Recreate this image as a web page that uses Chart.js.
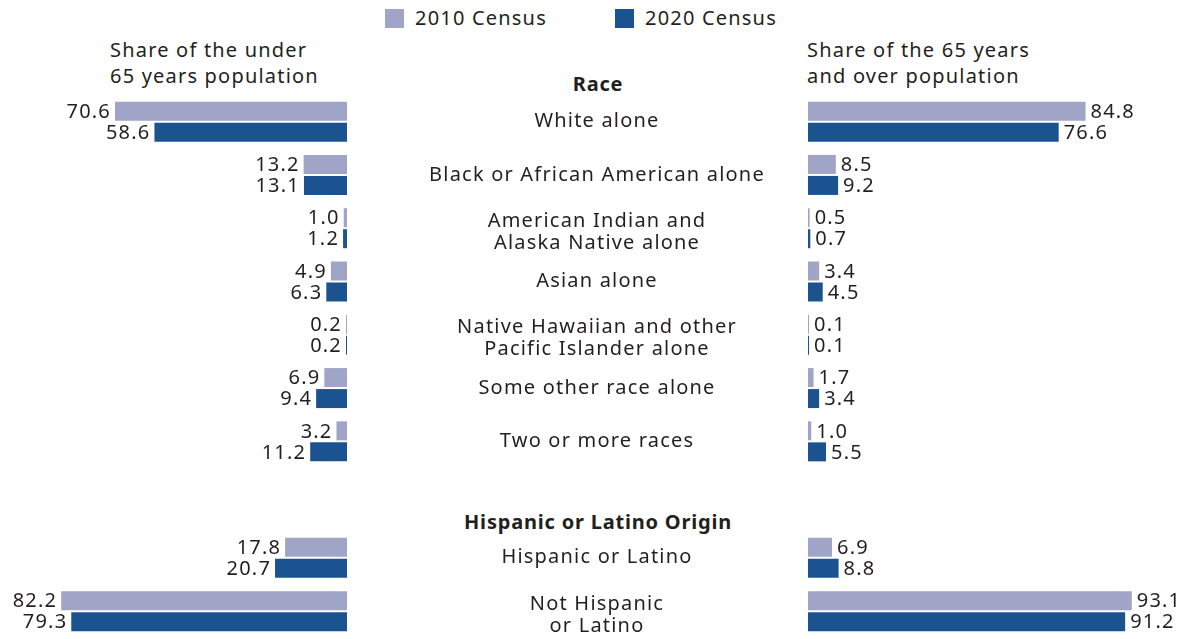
<!DOCTYPE html>
<html>
<head>
<meta charset="utf-8">
<script src="https://cdn.jsdelivr.net/npm/chart.js@4.4.1/dist/chart.umd.min.js"></script>
<style>
  body { margin: 0; background: #fff; font-family: "Noto Sans", sans-serif; color: #231f20; }
  #wrap { position: relative; width: 1186px; height: 639px; overflow: hidden; }
  canvas { position: absolute; }
  .txt { position: absolute; font-size: 20px; line-height: 26px; white-space: nowrap; letter-spacing: 1.2px; }
  .head { font-weight: bold; letter-spacing: 0.8px; text-align: center; width: 400px; margin-left: -200px; }
  .key { position: absolute; width: 19px; height: 19px; }
</style>
</head>
<body>
<div id="wrap">
  <div class="key" style="left:385px;top:9px;background:#a0a5c8"></div>
  <div class="txt" style="left:415px;top:5px">2010 Census</div>
  <div class="key" style="left:615px;top:9px;background:#1b5391"></div>
  <div class="txt" style="left:645px;top:5px">2020 Census</div>

  <div class="txt" style="left:110px;top:37px">Share of the under<br>65 years population</div>
  <div class="txt" style="left:807px;top:37px">Share of the 65 years<br>and over population</div>

  <div class="txt head" style="left:598px;top:71px">Race</div>
  <div class="txt head" style="left:598px;top:509px">Hispanic or Latino Origin</div>

  <canvas id="leftRace" width="347" height="373" style="left:0;top:95px"></canvas>
  <canvas id="rightRace" width="839" height="373" style="left:347px;top:95px"></canvas>
  <canvas id="leftHisp" width="347" height="107" style="left:0;top:531px"></canvas>
  <canvas id="rightHisp" width="839" height="107" style="left:347px;top:531px"></canvas>
</div>
<script>
// categories
const raceGroups = [
  "White alone",
  "Black or African American alone",
  ["American Indian and", "Alaska Native alone"],
  "Asian alone",
  ["Native Hawaiian and other", "Pacific Islander alone"],
  "Some other race alone",
  "Two or more races"
];
const hispGroups = ["Hispanic or Latino", ["Not Hispanic", "or Latino"]];

// share of the under 65 population (%)
const under65Race2010 = [70.6, 13.2, 1.0, 4.9, 0.2, 6.9, 3.2];
const under65Race2020 = [58.6, 13.1, 1.2, 6.3, 0.2, 9.4, 11.2];
const under65Hisp2010 = [17.8, 82.2];
const under65Hisp2020 = [20.7, 79.3];

// share of the 65 and over population (%)
const over65Race2010 = [84.8, 8.5, 0.5, 3.4, 0.1, 1.7, 1.0];
const over65Race2020 = [76.6, 9.2, 0.7, 4.5, 0.1, 3.4, 5.5];
const over65Hisp2010 = [6.9, 93.1];
const over65Hisp2020 = [8.8, 91.2];

const color2010 = "#a0a5c8";
const color2020 = "#1b5391";
const textColor = "#231f20";
const font = '20px "Noto Sans", sans-serif';

// numbers next to the bar ends
const valueLabels = {
  id: "valueLabels",
  afterDatasetsDraw(chart, args, opts) {
    const ctx = chart.ctx;
    ctx.save();
    ctx.font = font;
    ctx.letterSpacing = "1.2px";
    ctx.fillStyle = textColor;
    ctx.textBaseline = "middle";
    chart.data.datasets.forEach((ds, i) => {
      chart.getDatasetMeta(i).data.forEach((bar, j) => {
        const txt = ds.data[j].toFixed(1);
        if (opts.side === "left") {
          ctx.textAlign = "right";
          ctx.fillText(txt, bar.x - 4, bar.y + 1);
        } else {
          ctx.textAlign = "left";
          ctx.fillText(txt, bar.x + 5, bar.y + 1);
        }
      });
    });
    ctx.restore();
  }
};

// group names in the middle column
const groupLabels = {
  id: "groupLabels",
  afterDraw(chart, args, opts) {
    if (!opts.show) return;
    const ctx = chart.ctx;
    const y = chart.scales.y;
    const cx = chart.chartArea.left - 211;
    ctx.save();
    ctx.font = font;
    ctx.letterSpacing = "1.2px";
    ctx.fillStyle = textColor;
    ctx.textAlign = "center";
    ctx.textBaseline = "middle";
    chart.data.labels.forEach((lab, i) => {
      const lines = Array.isArray(lab) ? lab : [lab];
      const mid = y.getPixelForValue(i) + (lines.length > 1 ? 4 : 0);
      lines.forEach((ln, k) => {
        ctx.fillText(ln, cx, mid + (k - (lines.length - 1) / 2) * 22);
      });
    });
    ctx.restore();
  }
};

function makeChart(id, groups, a, b, max, side) {
  const left = side === "left";
  const canvas = document.getElementById(id);
  return new Chart(canvas, {
    type: "bar",
    data: {
      labels: groups,
      datasets: [
        { label: "2010 Census", data: a, backgroundColor: color2010 },
        { label: "2020 Census", data: b, backgroundColor: color2020 }
      ]
    },
    options: {
      indexAxis: "y",
      responsive: false,
      animation: false,
      layout: { padding: { left: left ? 0 : 461, right: 0, top: 0, bottom: 0 } },
      datasets: {
        bar: {
          categoryPercentage: 42 / (canvas.height / groups.length),
          barPercentage: 19 / 21,
          minBarLength: 1,
          borderWidth: 0
        }
      },
      scales: {
        x: { display: false, min: 0, max: max, reverse: left },
        y: { display: false }
      },
      plugins: {
        legend: { display: false },
        tooltip: { enabled: false },
        valueLabels: { side: side },
        groupLabels: { show: !left }
      }
    },
    plugins: [valueLabels, groupLabels]
  });
}

makeChart("leftRace", raceGroups, under65Race2010, under65Race2020, 105.6, "left");
makeChart("rightRace", raceGroups, over65Race2010, over65Race2020, 115.5, "right");
makeChart("leftHisp", hispGroups, under65Hisp2010, under65Hisp2020, 99.8, "left");
makeChart("rightHisp", hispGroups, over65Hisp2010, over65Hisp2020, 108.7, "right");
</script>
</body>
</html>
